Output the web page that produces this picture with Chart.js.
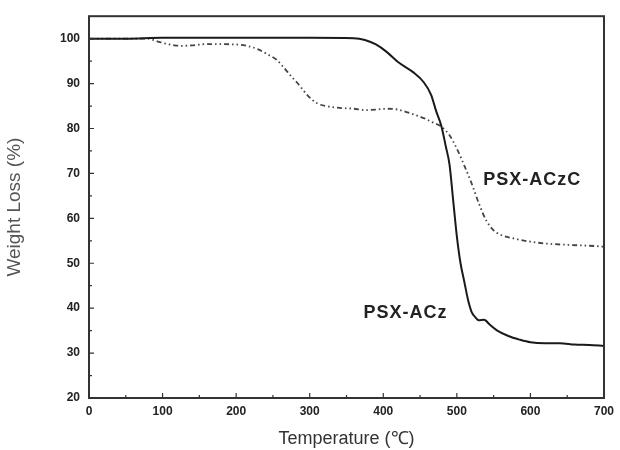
<!DOCTYPE html>
<html>
<head>
<meta charset="utf-8">
<script src="https://cdn.jsdelivr.net/npm/chart.js@4"></script>
<style>
  html, body { margin: 0; padding: 0; background: #fff; }
  #wrap { width: 620px; height: 450px; }
</style>
</head>
<body>
<div id="wrap"><canvas id="tga-chart" width="620" height="450"></canvas></div>
<script>
// PSX-ACz (solid line)
const tempAcz = [0, 50, 100, 200, 300, 360, 375, 390, 405, 420, 440, 455, 465, 472, 479, 485, 490, 495, 500, 505, 510, 515, 520, 525, 530, 537, 545, 555, 570, 585, 600, 620, 640, 660, 680, 700]
const lossAcz = [100, 100, 100.2, 100.2, 100.2, 100.1, 99.7, 98.7, 97, 94.8, 92.6, 90.3, 87.5, 83.8, 80.5, 76, 72, 64, 56, 50, 46, 42, 39.2, 38, 37.3, 37.4, 36.3, 35, 33.8, 33, 32.4, 32.2, 32.2, 31.9, 31.8, 31.6]

// PSX-ACzC (dash-dot-dot line)
const tempAczc = [0, 50, 80, 95, 110, 125, 140, 160, 200, 215, 230, 245, 255, 265, 275, 285, 297, 310, 325, 340, 360, 375, 390, 405, 420, 440, 455, 468, 480, 490, 500, 510, 520, 530, 540, 550, 560, 575, 600, 620, 650, 680, 700]
const lossAczc = [100, 100, 100, 99.3, 98.7, 98.4, 98.5, 98.8, 98.7, 98.4, 97.6, 96.3, 95.3, 93.5, 91.6, 89.8, 87.4, 85.6, 84.9, 84.6, 84.4, 84.1, 84.2, 84.4, 84.2, 83.2, 82.3, 81.3, 80.3, 78.5, 75.5, 71.8, 67.8, 63.3, 59.5, 57.3, 56.3, 55.6, 54.8, 54.4, 54.1, 53.9, 53.7]

const xTicks = [0, 100, 200, 300, 400, 500, 600, 700]
const yTicks = [20, 30, 40, 50, 60, 70, 80, 90, 100]

// labels written next to the curves, in data units
const curveLabels = [
    { text: "PSX-ACzC", x: 536, y: 68.5 },
    { text: "PSX-ACz", x: 373, y: 39 }
]

const toPoints = (xs, ys) => xs.map((x, i) => ({ x: x, y: ys[i] }))

const tickFont = { family: "'Liberation Sans', Arial, sans-serif", size: 12, weight: 'bold' }

// box frame, inward ticks and curve labels
const framePlugin = {
    id: 'frame',
    afterDraw(chart) {
        const { ctx, chartArea: a, scales } = chart
        const xs = scales.x, ys = scales.y
        ctx.save()
        ctx.strokeStyle = '#333'
        ctx.lineWidth = 2
        ctx.strokeRect(a.left, a.top, a.right - a.left, a.bottom - a.top)

        ctx.lineWidth = 1.2
        ctx.beginPath()
        for (let v = 0; v <= 700; v += 50) {
            const px = xs.getPixelForValue(v)
            const len = v % 100 === 0 ? 5 : 3
            ctx.moveTo(px, a.bottom)
            ctx.lineTo(px, a.bottom - len)
        }
        for (let v = 20; v <= 100; v += 5) {
            const py = ys.getPixelForValue(v)
            const len = v % 10 === 0 ? 5 : 3
            ctx.moveTo(a.left, py)
            ctx.lineTo(a.left + len, py)
        }
        ctx.stroke()

        ctx.fillStyle = '#222'
        ctx.font = "bold 18px 'Liberation Sans', Arial, sans-serif"
        ctx.textBaseline = 'middle'
        ctx.textAlign = 'left'
        if ('letterSpacing' in ctx) ctx.letterSpacing = '1px'
        curveLabels.forEach(l => {
            ctx.fillText(l.text, xs.getPixelForValue(l.x), ys.getPixelForValue(l.y))
        })
        ctx.restore()
    }
}

const tgaCanvas = document.getElementById("tga-chart")

let tgaChart = new Chart(tgaCanvas, {
    type: 'line',
    data: {
        datasets: [{
            label: "PSX-ACz",
            data: toPoints(tempAcz, lossAcz),
            borderColor: '#1a1a1a',
            borderWidth: 2,
            pointRadius: 0,
            cubicInterpolationMode: 'monotone'
        }, {
            label: "PSX-ACzC",
            data: toPoints(tempAczc, lossAczc),
            borderColor: '#444',
            borderWidth: 1.8,
            borderDash: [5, 3, 1.5, 3, 1.5, 3],
            pointRadius: 0,
            cubicInterpolationMode: 'monotone'
        }]
    },
    options: {
        responsive: false,
        animation: false,
        layout: { padding: { top: 14, right: 11, left: 0, bottom: 0 } },
        plugins: {
            legend: { display: false },
            tooltip: { enabled: false }
        },
        scales: {
            x: {
                type: 'linear',
                min: 0,
                max: 700,
                afterBuildTicks: scale => { scale.ticks = xTicks.map(v => ({ value: v })) },
                afterFit: scale => { scale.height = 52 },
                grid: { display: false, drawTicks: false },
                border: { display: false },
                ticks: { color: '#222', font: tickFont, padding: 6, maxRotation: 0 },
                title: {
                    display: true,
                    text: 'Temperature (℃)',
                    color: '#333',
                    font: { family: "'Liberation Sans', Arial, sans-serif", size: 18, lineHeight: 1.2 },
                    padding: { top: 0, bottom: 0 }
                }
            },
            y: {
                type: 'linear',
                min: 20,
                max: 105,
                afterBuildTicks: scale => { scale.ticks = yTicks.map(v => ({ value: v })) },
                afterFit: scale => { scale.width = 89 },
                grid: { display: false, drawTicks: false },
                border: { display: false },
                ticks: { color: '#222', font: tickFont, padding: 9 },
                title: {
                    display: true,
                    text: 'Weight Loss (%)',
                    color: '#555',
                    font: { family: "'Liberation Sans', Arial, sans-serif", size: 19, lineHeight: 1.2 },
                    padding: { top: 3, bottom: 0 }
                }
            }
        }
    },
    plugins: [framePlugin]
})
</script>
</body>
</html>
